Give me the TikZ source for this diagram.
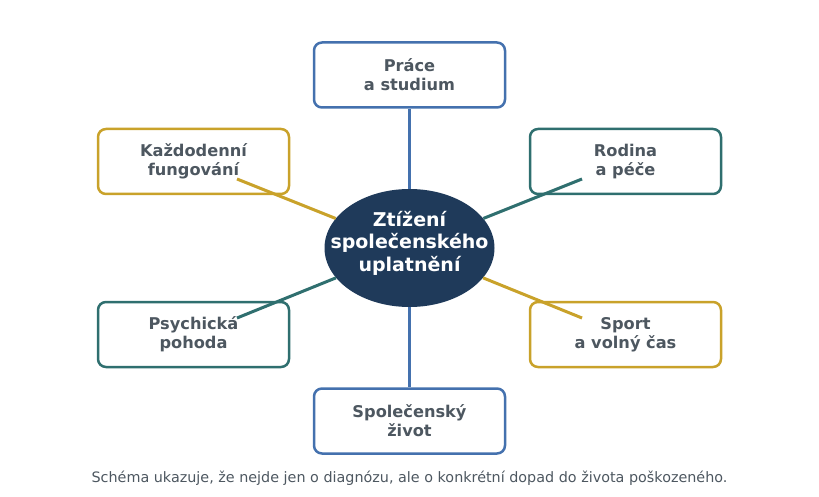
\documentclass[tikz,border=0pt]{standalone}
\usepackage{fontspec}
\setmainfont{DejaVu Sans}
\definecolor{cblue}{HTML}{4471AE}
\definecolor{cgold}{HTML}{C9A22A}
\definecolor{cteal}{HTML}{2F6F6F}
\definecolor{cnavy}{HTML}{1F3A5A}
\definecolor{ctext}{HTML}{4D5760}
\usetikzlibrary{shapes.geometric}
\tikzset{
  box/.style={draw=#1, line width=2.5pt, rounded corners=8pt, fill=white,
    minimum width=191pt, minimum height=65pt, align=center, text=ctext,
    font=\fontsize{16.2}{19}\selectfont\bfseries, inner sep=0pt},
  link/.style={draw=#1, line width=3pt},
  hub/.style={ellipse, fill=cnavy, minimum width=170pt, minimum height=118pt, inner sep=0pt},
  hubtext/.style={align=center, text=white, inner sep=0pt,
    font=\fontsize{19}{22.5}\selectfont\bfseries},
}
\begin{document}
\begin{tikzpicture}[x=1pt,y=-1pt]
\useasboundingbox (0,0) rectangle (819,497);
\node[box=cblue] (top) at (409.5,75) {Práce\\a studium};
\node[box=cgold] (tl) at (193.5,161.5) {Každodenní\\fungování};
\node[box=cteal] (tr) at (625.5,161.5) {Rodina\\a péče};
\node[box=cteal] (bl) at (193.5,334.5) {Psychická\\pohoda};
\node[box=cgold] (br) at (625.5,334.5) {Sport\\a volný čas};
\node[box=cblue] (bot) at (409.5,421) {Společenský\\život};
\coordinate (ktl) at (237,179);
\coordinate (ktr) at (582,179);
\coordinate (kbl) at (237,318);
\coordinate (kbr) at (582,318);
\node[hub] (c) at (409.5,248) {};
\node[hubtext] (ct) at ([yshift=5pt]c.center) {Ztížení\\společenského\\uplatnění};
\draw[link=cblue] (c) -- (top);
\draw[link=cblue] (c) -- (bot);
\draw[link=cgold] (c) -- (ktl);
\draw[link=cteal] (c) -- (ktr);
\draw[link=cteal] (c) -- (kbl);
\draw[link=cgold] (c) -- (kbr);
\node[text=ctext, font=\fontsize{14.35}{16}\selectfont] (cap) at (409.5,478) {Schéma ukazuje, že nejde jen o diagnózu, ale o konkrétní dopad do života poškozeného.};
\end{tikzpicture}
\end{document}
